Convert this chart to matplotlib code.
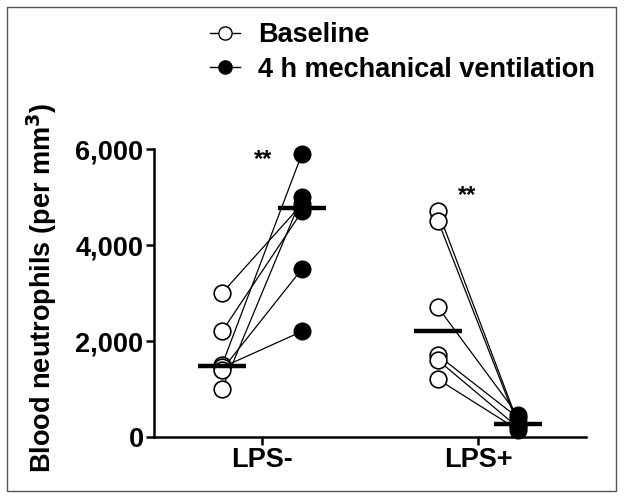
import numpy as np
import matplotlib.pyplot as plt
from matplotlib.lines import Line2D
from matplotlib.patches import Rectangle

plt.rcParams['font.family'] = ['Liberation Sans', 'DejaVu Sans']
plt.rcParams['font.weight'] = 'bold'

groups = ["LPS-", "LPS+"]
# paired values per animal (baseline -> 4 h MV)
lps_neg_base = [3000, 2200, 1500, 1450, 1400, 1000]
lps_neg_mv = [4850, 4700, 5900, 2200, 3500, 5000]
lps_pos_base = [4700, 4500, 2700, 1700, 1600, 1200]
lps_pos_mv = [300, 250, 450, 400, 200, 150]
yticks = [0, 2000, 4000, 6000]
ytick_labels = ["0", "2,000", "4,000", "6,000"]

fs = 19.5

fig = plt.figure(figsize=(6.24, 5), dpi=100)
ax = fig.add_axes([154/624, 63/500, 432/624, 288/500])

off = 0.185
half = 0.11
data = [(lps_neg_base, lps_neg_mv), (lps_pos_base, lps_pos_mv)]
for i, (b, m) in enumerate(data):
    xc = i + 1
    for vb, vm in zip(b, m):
        ax.plot([xc - off, xc + off], [vb, vm], color='black', lw=0.9, zorder=2)
    ax.plot([xc - off] * len(b), b, 'o', ms=12, mfc='white', mec='black', mew=1.2,
            ls='none', zorder=3, clip_on=False)
    ax.plot([xc + off] * len(m), m, 'o', ms=12, mfc='black', mec='black',
            ls='none', zorder=3, clip_on=False)
    ax.plot([xc - off - half, xc - off + half], [np.median(b)] * 2, color='black',
            lw=3.2, zorder=4, solid_capstyle='butt')
    ax.plot([xc + off - half, xc + off + half], [np.median(m)] * 2, color='black',
            lw=3.2, zorder=4, solid_capstyle='butt')

ax.text(1.005, 5550, "**", ha='center', va='bottom', fontsize=17)
ax.text(1.95, 4800, "**", ha='center', va='bottom', fontsize=17)

ax.set_xlim(0.5, 2.5)
ax.set_ylim(0, 6000)
ax.set_xticks([1, 2])
ax.set_xticklabels(groups, fontsize=fs)
ax.set_yticks(yticks)
ax.set_yticklabels(ytick_labels, fontsize=fs)
for s in ['top', 'right']:
    ax.spines[s].set_visible(False)
for s in ['left', 'bottom']:
    ax.spines[s].set_linewidth(1.8)
ax.tick_params(width=1.8, length=5.5, pad=2)

fig.text(42/624, 1 - 288/500, "Blood neutrophils (per mm$^\\mathbf{3}$)", rotation=90,
         ha='center', va='center', fontsize=fs)

handles = [
    Line2D([], [], color='black', lw=1, marker='o', ms=9.5, mfc='white', mec='black'),
    Line2D([], [], color='black', lw=1, marker='o', ms=9.5, mfc='black', mec='black'),
]
fig.legend(handles, ["Baseline", "4 h mechanical ventilation"], loc='upper left',
           bbox_to_anchor=(210/624, 1 - 22/500), frameon=False, fontsize=fs,
           borderpad=0, borderaxespad=0, handlelength=1.1, handletextpad=0.67,
           labelspacing=0.32)

fig.patches.append(Rectangle((7/624, 9/500), 609/624, 484/500, transform=fig.transFigure,
                             fill=False, edgecolor='#555555', lw=1))

fig.savefig("out.png", dpi=100)
